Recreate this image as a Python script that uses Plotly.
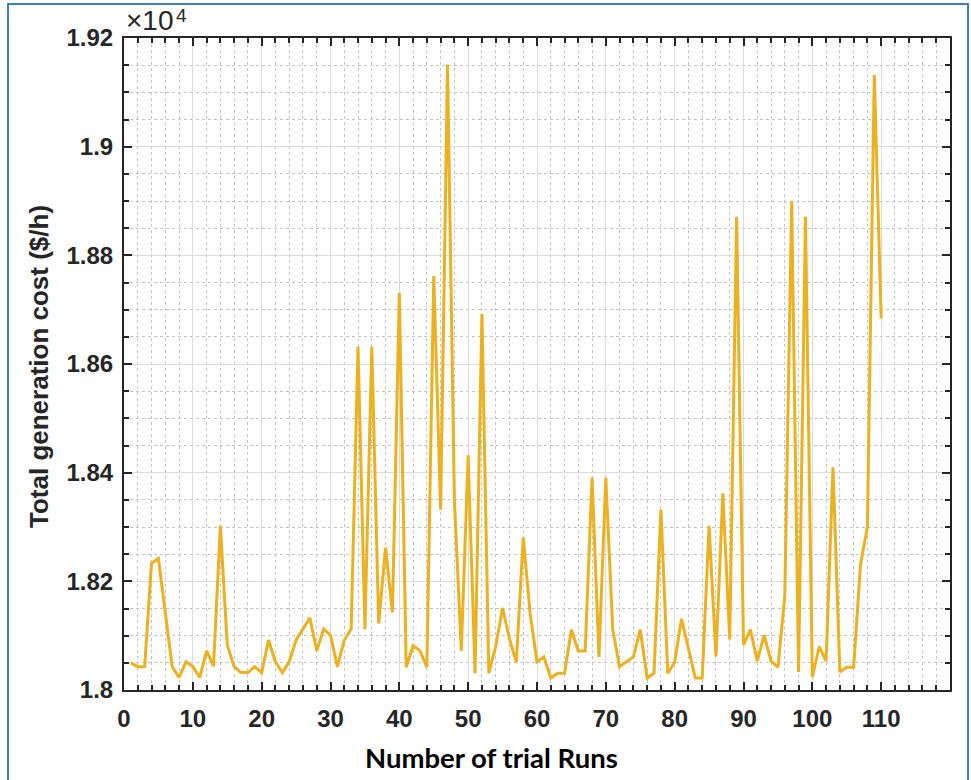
import plotly.graph_objects as go

runs = list(range(1, 111))
cost = [18050, 18043, 18043, 18233, 18242, 18141, 18043, 18023, 18052, 18043,
        18023, 18072, 18044, 18302, 18083, 18043, 18032, 18032, 18043, 18032,
        18092, 18052, 18032, 18052, 18092, 18112, 18133, 18072, 18112, 18101,
        18043, 18092, 18112, 18632, 18112, 18632, 18122, 18262, 18143, 18731,
        18042, 18082, 18072, 18042, 18762, 18332, 19151, 18350, 18072, 18432,
        18031, 18692, 18031, 18080, 18151, 18094, 18051, 18281, 18141, 18052,
        18061, 18022, 18031, 18031, 18111, 18072, 18072, 18391, 18061, 18391,
        18111, 18043, 18052, 18061, 18111, 18022, 18031, 18332, 18031, 18051,
        18131, 18075, 18022, 18022, 18302, 18062, 18362, 18093, 18871, 18083,
        18111, 18053, 18101, 18053, 18042, 18173, 18900, 18033, 18871, 18024,
        18080, 18053, 18410, 18033, 18042, 18042, 18231, 18300, 19132, 18684]

x_ticks = list(range(0, 111, 10))
y_ticks = list(range(18000, 19201, 200))
y_ticktext = ["1.8", "1.82", "1.84", "1.86", "1.88", "1.9", "1.92"]

W, H = 971, 780
L, R, T, B = 124, 21, 38, 90
pw, ph = W - L - R, H - T - B

def px(xp):
    return (xp - L) / pw

def py(yp):
    return (H - B - yp) / ph

SANS = "Liberation Sans, Arial, sans-serif"
tick_font = dict(family=SANS, size=24, color="#262626")
axis_color = "#262626"

fig = go.Figure()
fig.add_trace(go.Scatter(x=runs, y=cost, mode="lines",
                         line=dict(color="#EDB120", width=3), showlegend=False))

common = dict(
    showline=True, linecolor=axis_color, linewidth=2, mirror="ticks",
    ticks="inside", ticklen=8, tickwidth=2, tickcolor=axis_color,
    showgrid=True, gridcolor="#dcdcdc", gridwidth=1,
    zeroline=False, tickfont=tick_font,
)

fig.update_xaxes(
    range=[0, 120], tickmode="array", tickvals=x_ticks,
    ticktext=["<b>%d</b>" % v for v in x_ticks], ticklabelstandoff=6,
    minor=dict(dtick=2, tick0=0, ticks="inside", ticklen=5, tickwidth=1.5,
               tickcolor=axis_color, showgrid=True, gridcolor="#c4c4c4",
               griddash="dot", gridwidth=1),
    **common)
fig.update_yaxes(
    range=[18000, 19200], tickmode="array", tickvals=y_ticks,
    ticktext=["<b>%s</b>" % t for t in y_ticktext], ticklabelstandoff=4,
    minor=dict(dtick=50, tick0=18000, ticks="inside", ticklen=5, tickwidth=1.5,
               tickcolor=axis_color, showgrid=True, gridcolor="#c4c4c4",
               griddash="dot", gridwidth=1),
    **common)

# exponent label "×10^4"
fig.add_annotation(xref="paper", yref="paper", x=px(124), y=py(38),
                   xanchor="left", yanchor="bottom", showarrow=False,
                   text="×10", font=dict(family=SANS, size=28, color="#262626"))
fig.add_annotation(xref="paper", yref="paper", x=px(174), y=py(3),
                   xanchor="left", yanchor="top", showarrow=False,
                   text="4", font=dict(family=SANS, size=19, color="#262626"))

fig.add_annotation(xref="paper", yref="paper", x=px(39), y=py(367),
                   xanchor="center", yanchor="middle", showarrow=False, textangle=-90,
                   text="<b>Total generation cost ($/h)</b>",
                   font=dict(family=SANS, size=26, color="#262626"))
fig.add_annotation(xref="paper", yref="paper", x=px(491), y=py(757),
                   xanchor="center", yanchor="middle", showarrow=False,
                   text="<b>Number of trial Runs</b>",
                   font=dict(family="Lato, Open Sans, sans-serif", size=27.5, color="#000000"))

fig.add_shape(type="rect", xref="paper", yref="paper",
              x0=px(8), x1=px(968), y0=py(820), y1=py(4),
              line=dict(color="#3C7DC4", width=2), fillcolor="rgba(0,0,0,0)", layer="above")

fig.update_layout(width=W, height=H, margin=dict(l=L, r=R, t=T, b=B, autoexpand=False),
                  paper_bgcolor="white", plot_bgcolor="white")

fig.write_html("out.html")
